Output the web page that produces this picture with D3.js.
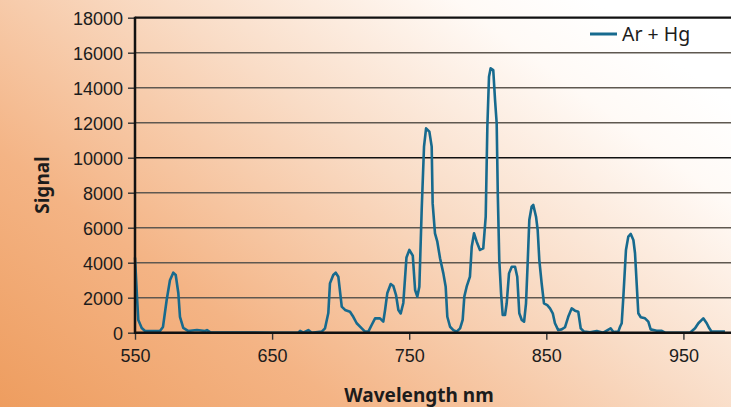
<!DOCTYPE html>
<html>
<head>
<meta charset="utf-8">
<script src="https://cdn.jsdelivr.net/npm/d3@7"></script>
<style>
  body { margin: 0; }
  svg { display: block; font-family: "Noto Sans", "Open Sans", sans-serif; }
  .tick text { font-size: 18px; fill: #1c1c1c; }
</style>
</head>
<body>
<svg id="svg1" width="731" height="407"></svg>
<script>
var width = 731;
var height = 407;

// wavelength (nm) and signal
var wavelength = [550, 551.5, 552.4, 554.9, 557.3, 568.2, 570.4, 573.1, 575.5, 577.9,
    579.7, 581.6, 582.8, 585.2, 588.7, 595.2, 601.1, 602.5, 604.7, 620,
    650, 669.1, 670.4, 672.8, 676.4, 678.9, 686.2, 688.6, 691.0, 692.2,
    694.6, 696.4, 698.3, 700.8, 703.2, 706.8, 709.2, 711.7, 715.4, 717.8,
    720.2, 722.6, 725.1, 728.7, 731.1, 732.4, 734.0, 736.5, 738.4, 740.4,
    742.1, 743.8, 745.7, 748.0, 750.1, 752.6, 754.3, 755.9, 757.4, 759.1,
    760.8, 762.3, 764.7, 766.4, 767.1, 768.8, 770.5, 772.5, 774.9, 776.6,
    777.8, 779.8, 782.2, 784.6, 787.1, 789.0, 790.2, 791.9, 794.3, 795.6,
    797.3, 799.2, 801.6, 804.0, 805.8, 807.0, 808.2, 809.4, 811.3, 812.6,
    813.8, 814.6, 815.7, 817.0, 818.2, 819.9, 821.1, 822.8, 824.8, 827.2,
    828.8, 830.3, 832.1, 833.8, 835.2, 836.4, 837.6, 839.3, 840.5, 842.5,
    843.7, 844.9, 846.6, 848.3, 850.7, 852.7, 854.7, 856.3, 858.7, 861.2,
    863.6, 866.0, 868.5, 870.9, 873.3, 875.1, 877.5, 881.9, 886.8, 891.6,
    896.9, 898.9, 902.5, 903.8, 905.0, 906.2, 908.1, 909.8, 911.6, 913.5,
    914.7, 915.9, 917.1, 918.9, 922.0, 924.4, 926.1, 930.5, 934.2, 936.6,
    954.8, 958.5, 960.9, 964.5, 967.0, 968.9, 970.6, 980.3];

var signal = [4300, 2000, 720, 270, 100, 100, 330, 1870, 3000, 3430,
    3300, 2270, 900, 270, 100, 150, 100, 150, 30, 10,
    0, 0, 100, 0, 150, 0, 60, 250, 1120, 2820,
    3300, 3430, 3200, 1490, 1300, 1200, 910, 540, 250, 60,
    60, 440, 820, 820, 630, 1300, 2250, 2780, 2670, 2150,
    1300, 1100, 1700, 4300, 4730, 4400, 2440, 2060, 2630, 7010,
    10630, 11680, 11490, 10630, 7390, 5680, 5200, 4250, 3390, 2630,
    910, 340, 150, 60, 250, 730, 2060, 2630, 3200, 4910,
    5680, 5200, 4730, 4820, 6630, 11770, 14630, 15110, 15010, 13300,
    11970, 7970, 4150, 2250, 1010, 1010, 1680, 3390, 3770, 3770,
    3200, 1110, 730, 630, 1680, 3970, 6440, 7200, 7300, 6630,
    5870, 4150, 2820, 1680, 1580, 1390, 1110, 540, 150, 190,
    310, 910, 1390, 1260, 1200, 250, 60, 20, 100, 0,
    250, 40, 60, 340, 540, 2060, 4730, 5490, 5640, 5300,
    4540, 2820, 1110, 880, 820, 630, 190, 110, 110, 0,
    0, 250, 540, 820, 540, 250, 60, 60];

var xTicks = [550, 650, 750, 850, 950];
var yTicks = [0, 2000, 4000, 6000, 8000, 10000, 12000, 14000, 16000, 18000];
var seriesName = "Ar + Hg";

var lineColor = "#176a8e";

var svg = d3.select('#svg1');

// background
var defs = svg.append('defs');
var grad = defs.append('linearGradient')
    .attr('id', 'bg')
    .attr('x1', 0).attr('y1', 1)
    .attr('x2', 1).attr('y2', 0.25);
grad.append('stop').attr('offset', '0%').attr('stop-color', '#ee9d5f');
grad.append('stop').attr('offset', '30%').attr('stop-color', '#f4b485');
grad.append('stop').attr('offset', '62%').attr('stop-color', '#f9dcc6');
grad.append('stop').attr('offset', '88%').attr('stop-color', '#fffaf6');
grad.append('stop').attr('offset', '100%').attr('stop-color', '#ffffff');

svg.append('rect')
    .attr('width', width)
    .attr('height', height)
    .attr('fill', 'url(#bg)');

var x = d3.scaleLinear()
    .domain([550, 985])
    .range([135, 731.4]);

var y = d3.scaleLinear()
    .domain([0, 18000])
    .range([332.7, 17.7]);

// grid
svg.append('g')
    .selectAll('line')
    .data(yTicks.filter(function (d) { return d > 0 && d < 18000; }))
    .enter()
    .append('line')
    .attr('x1', x(550))
    .attr('x2', width)
    .attr('y1', function (d) { return y(d); })
    .attr('y2', function (d) { return y(d); })
    .attr('stroke', function (d) { return d == 10000 ? '#111' : '#5f5850'; })
    .attr('stroke-width', 1.4);

// top frame
svg.append('line')
    .attr('x1', x(550)).attr('x2', width)
    .attr('y1', y(18000)).attr('y2', y(18000))
    .attr('stroke', '#111')
    .attr('stroke-width', 2.2);

// axes
var xAxis = svg.append('g')
    .attr('transform', 'translate(0,' + y(0) + ')')
    .call(d3.axisBottom(x).tickValues(xTicks).tickSize(7).tickPadding(10).tickFormat(d3.format('d')));
xAxis.select('.domain').remove();
xAxis.selectAll('.tick line').attr('stroke', '#333').attr('stroke-width', 1.4);

var yAxis = svg.append('g')
    .attr('transform', 'translate(' + x(550) + ',0)')
    .call(d3.axisLeft(y).tickValues(yTicks).tickSize(7).tickPadding(5).tickFormat(d3.format('d')));
yAxis.select('.domain').remove();
yAxis.selectAll('.tick line').attr('stroke', '#333').attr('stroke-width', 1.4);
yAxis.selectAll('.tick text').attr('dy', '0.36em');

// line
var points = wavelength.map(function (w, i) { return [w, signal[i]]; });

var line = d3.line()
    .x(function (d) { return x(d[0]); })
    .y(function (d) { return y(d[1]); });

svg.append('path')
    .datum(points)
    .attr('d', line)
    .attr('fill', 'none')
    .attr('stroke', lineColor)
    .attr('stroke-width', 2.6)
    .attr('stroke-linejoin', 'round');

// axis lines on top
svg.append('line')
    .attr('x1', x(550)).attr('x2', x(550))
    .attr('y1', y(18000) - 1).attr('y2', y(0) + 1)
    .attr('stroke', '#111')
    .attr('stroke-width', 2.5);
svg.append('line')
    .attr('x1', x(550) - 1).attr('x2', width)
    .attr('y1', y(0)).attr('y2', y(0))
    .attr('stroke', '#111')
    .attr('stroke-width', 2.5);

// labels
svg.append('text')
    .attr('transform', 'translate(49,185) rotate(-90)')
    .attr('text-anchor', 'middle')
    .attr('font-size', 19)
    .attr('font-weight', 'bold')
    .attr('fill', '#1c1c1c')
    .text('Signal');

svg.append('text')
    .attr('x', 419)
    .attr('y', 402)
    .attr('text-anchor', 'middle')
    .attr('font-size', 19)
    .attr('font-weight', 'bold')
    .attr('fill', '#1c1c1c')
    .text('Wavelength nm');

// legend
svg.append('line')
    .attr('x1', 590).attr('x2', 617)
    .attr('y1', 34).attr('y2', 34)
    .attr('stroke', lineColor)
    .attr('stroke-width', 3);
svg.append('text')
    .attr('x', 622)
    .attr('y', 41)
    .attr('font-size', 19.5)
    .attr('fill', '#1c1c1c')
    .text(seriesName);
</script>
</body>
</html>
